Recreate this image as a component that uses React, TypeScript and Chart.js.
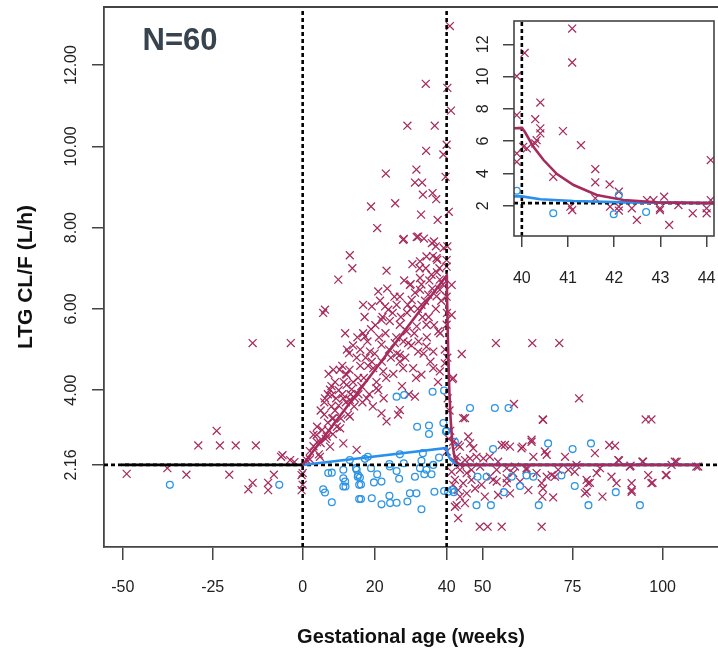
import React, { useEffect, useRef } from "react";
import { Chart, registerables } from "chart.js";

Chart.register(...registerables);

const FONT = '"Liberation Sans", Arial, sans-serif';
const MAROON = "#A62B5C";
const BLUE = "#2D95E5";
const BLUE_LINE = "#2A90EE";
const AXIS = "#444444";

// ---- main axis settings (values) ----
const X_MIN = -55.2;
const X_MAX = 115.4;
const Y_MIN = 0.14;
const Y_MAX = 13.43;
const X_TICKS = [-50, -25, 0, 20, 40, 50, 75, 100];
const Y_TICKS = [2.16, 4, 6, 8, 10, 12];
const BASELINE = 2.16;
const CONCEPTION = 0;
const DELIVERY = 40;

// ---- inset axis settings ----
const INSET_X_MIN = 39.83;
const INSET_X_MAX = 44.16;
const INSET_Y_MIN = 0.125;
const INSET_Y_MAX = 13.44;
const INSET_X_TICKS = [40, 41, 42, 43, 44];
const INSET_Y_TICKS = [2, 4, 6, 8, 10, 12];

// ---- fitted model lines ----
const PRE_FIT_X = [-50.4, 0];
const PRE_FIT_Y = [2.16, 2.16];
const MAROON_FIT_X = [0, 40, 40.07, 40.25, 40.47, 40.76, 41.12, 41.62, 42.2, 42.92, 44.15, 110.4];
const MAROON_FIT_Y = [2.16, 6.82, 6.55, 5.65, 4.83, 3.96, 3.28, 2.66, 2.35, 2.21, 2.16, 2.16];
const BLUE_FIT_X = [0, 40, 40.4, 41.12, 42.2, 44.15, 110.4];
const BLUE_FIT_Y = [2.16, 2.58, 2.4, 2.29, 2.21, 2.16, 2.16];

// ---- observations (weeks, L/h) ----
const CROSSES_PRE: [number, number][] = [
  [-48.9, 1.94], [-37.6, 2.08], [-32.3, 1.92], [-29.0, 2.64], [-23.9, 3.0], [-23.0, 2.64],
  [-20.4, 1.92], [-18.6, 2.64], [-13.0, 2.64], [-13.9, 5.16], [-3.3, 5.16], [-13.9, 1.72],
  [-15.1, 1.56], [-9.6, 1.72], [-9.6, 1.54], [-8.0, 1.92], [-5.6, 2.4], [-6.0, 2.36],
  [-3.5, 2.28], [-2.3, 2.23], [-0.3, 1.91], [-0.3, 1.54],
];

const CROSSES_PREG: [number, number][] = [
  [34.2, 11.54], [40.9, 12.96], [40.2, 11.44], [41.2, 10.88], [29.1, 10.51], [36.7, 10.51],
  [40.0, 10.04], [34.3, 9.89], [39.1, 9.8], [23.1, 9.33], [31.6, 9.43], [31.2, 9.11],
  [33.2, 9.11], [39.7, 9.25], [33.4, 8.81], [36.1, 8.85], [37.1, 8.7], [19.0, 8.52],
  [25.7, 8.6], [32.9, 8.32], [37.5, 8.19], [40.6, 8.39], [20.7, 7.99], [27.9, 7.7],
  [31.7, 7.77], [33.7, 7.73], [35.9, 7.62], [37.0, 7.54], [40.2, 7.54], [28.1, 7.72],
  [32.1, 7.78], [36.5, 7.66], [13.1, 7.32], [13.8, 7.0], [9.9, 6.72], [23.3, 6.94],
  [34.4, 7.29], [37.2, 7.25], [32.6, 7.17], [40.0, 7.04], [30.0, 6.61], [32.6, 6.76],
  [35.8, 6.84], [37.4, 7.21], [29.8, 6.59], [38.1, 6.72], [21.0, 6.43], [32.6, 6.47],
  [38.1, 6.47], [6.2, 5.98], [5.7, 5.9], [16.8, 6.1], [19.2, 6.06], [22.9, 6.06],
  [26.1, 6.1], [23.8, 5.98], [21.9, 5.73], [30.3, 6.22], [33.0, 6.1], [34.9, 6.35],
  [37.2, 6.31], [41.4, 6.59], [41.4, 5.85], [11.8, 5.4], [16.8, 5.4], [17.3, 5.32],
  [27.0, 5.61], [28.9, 5.45], [31.7, 5.57], [34.4, 5.61], [37.7, 5.45], [40.0, 5.61],
  [12.9, 4.91], [18.7, 4.95], [21.9, 5.12], [25.6, 5.16], [27.0, 4.87], [29.3, 5.16],
  [32.1, 4.95], [34.4, 5.07], [36.3, 4.95], [8.5, 4.5], [12.2, 4.38], [15.4, 4.3],
  [19.6, 4.54], [22.4, 4.46], [27.0, 4.7], [27.9, 4.54], [30.7, 4.54], [33.0, 4.38],
  [36.3, 4.54], [38.1, 4.46], [41.8, 4.3], [7.6, 4.01], [12.2, 4.13], [6.2, 3.8],
  [8.1, 3.88], [11.3, 3.8], [13.1, 3.76], [14.5, 3.8], [17.8, 3.8], [20.5, 4.05],
  [21.9, 3.43], [23.3, 3.23], [27.0, 3.51], [31.2, 3.84], [3.9, 2.9], [6.7, 2.86],
  [7.6, 2.61], [11.3, 2.69], [15.0, 2.53], [10.4, 3.06], [13.1, 3.35], [8.5, 3.31],
  [4.8, 2.36], [1.1, 2.28], [0.0, 1.96], [0.0, 1.67],
];

const CROSSES_BAND: [number, number][] = [
  [2, 2.5], [2, 2.3], [3, 2.62], [3, 2.9], [4, 2.72], [4, 3.1], [4.5, 2.42], [5, 3.5],
  [5, 2.7], [5.4, 3.02], [6, 3.4], [6, 3.7], [6.4, 2.8], [7, 3.9], [7, 3.2], [7.3, 3.0],
  [7.2, 4.4], [8, 3.6], [8, 4.1], [8.4, 2.92], [8.2, 3.3], [9, 4.2], [9, 3.5], [9.3, 3.8],
  [9.5, 3.1], [10, 4.0], [10, 3.62], [10.3, 4.5], [10.6, 3.3], [11, 4.6], [11, 3.9],
  [11.4, 4.2], [12, 4.4], [12, 3.7], [12.3, 5.0], [12.6, 3.4], [13, 4.5], [13.3, 3.9],
  [13.6, 4.02], [14, 5.1], [14, 4.2], [14.3, 3.6], [15, 4.8], [15.2, 5.3], [15.5, 3.9],
  [16, 4.6], [16, 5.0], [16.3, 4.1], [16.6, 3.7], [17, 4.3], [17.2, 5.8], [17.5, 4.8],
  [18, 5.2], [18.2, 4.6], [18.5, 3.9], [19, 5.5], [19.2, 4.7], [19.5, 3.6], [20, 4.9],
  [20.2, 5.6], [20.5, 4.2], [21, 4.0], [21.2, 5.3], [21.5, 6.2], [22, 4.7], [22.2, 5.8],
  [22.5, 3.8], [23, 5.4], [23.2, 4.3], [23.5, 6.5], [24, 5.0], [24.2, 5.7], [24.5, 4.8],
  [25, 5.9], [25.2, 4.4], [25.5, 6.3], [26, 5.3], [26.2, 4.9], [26.5, 3.4], [27, 6.3],
  [27.3, 5.8], [27.6, 4.1], [28, 5.2], [28.2, 6.7], [28.5, 4.8], [29, 5.9], [29.2, 6.1],
  [29.5, 3.9], [30, 6.0], [30.2, 5.1], [30.5, 7.1], [31, 5.4], [31.2, 6.4], [31.5, 4.3],
  [32, 6.0], [32.2, 5.2], [32.5, 7.0], [33, 6.6], [33.3, 5.8], [33.6, 4.9], [34, 6.2],
  [34.2, 7.0], [34.5, 5.3], [35, 5.8], [35.2, 6.7], [35.5, 4.7], [36, 6.5], [36.2, 7.3],
  [36.5, 5.6], [37, 6.0], [37.3, 6.9], [37.6, 4.2], [38, 7.0], [38.2, 5.4], [38.5, 6.2],
  [39, 6.6], [39.2, 7.5], [39.5, 5.0], [40, 6.3], [40, 7.2], [40.1, 5.9], [40.2, 4.8],
  [40.3, 3.8], [40.8, 3.5], [41.0, 3.0], [40.6, 2.8],
];

const CROSSES_POST: [number, number][] = [
  [44.2, 4.89], [53.7, 5.16], [63.8, 5.16], [71.3, 5.16], [76.8, 3.8], [58.7, 3.66],
  [66.7, 3.28], [95.3, 3.28], [96.9, 3.28], [44.6, 3.31], [45.1, 3.31], [46.0, 2.86],
  [56.2, 2.65], [57.6, 2.61], [61.1, 2.61], [63.6, 2.73], [67.8, 2.41], [69.2, 1.91],
  [72.9, 2.36], [81.2, 2.45], [85.2, 2.65], [86.8, 2.63], [87.9, 2.27], [91.1, 2.14],
  [94.4, 2.24], [96.0, 1.91], [97.2, 1.72], [100.9, 1.91], [103.4, 2.24], [109.9, 2.12],
  [79.8, 1.72], [78.9, 1.5], [83.3, 1.38], [87.2, 1.71], [91.4, 1.5], [69.6, 1.36],
  [66.6, 1.38], [66.4, 0.64], [49.2, 0.64], [51.4, 0.64], [55.3, 0.64], [43.2, 0.85],
  [42.8, 1.17], [53.9, 1.75], [56.7, 1.83], [58.5, 1.96], [62.2, 2.08], [64.1, 2.36],
  [66.4, 1.71], [67.3, 2.49], [76.1, 2.16], [81.7, 1.96], [78.9, 1.79], [41.6, 4.27],
  [39.5, 4.66], [66.8, 3.27], [43.7, 2.61], [47.4, 2.57], [55.3, 2.65], [60.8, 2.57],
  [63.6, 2.78], [70.1, 1.87], [87.7, 2.28], [90.9, 2.12], [94.6, 2.24], [102.5, 2.16],
  [103.9, 2.24], [109.4, 2.12], [82.6, 2.08], [79.3, 1.71], [78.4, 1.46], [85.8, 1.87],
  [91.4, 1.71], [91.4, 1.54], [96.9, 1.71], [101.1, 1.91], [42.8, 2.36], [45.1, 2.28],
  [46.5, 2.32], [48.3, 2.36], [50.2, 2.32], [52.0, 2.36], [54.3, 2.24], [43.7, 2.04],
  [45.6, 1.96], [46.9, 2.04], [49.3, 2.12], [52.0, 1.87], [53.9, 2.04], [56.7, 2.08],
  [59.0, 2.12], [62.2, 2.04], [65.0, 1.96], [67.8, 1.87], [71.0, 2.04], [73.8, 2.04],
  [42.3, 1.79], [44.6, 1.71], [46.9, 1.79], [49.7, 1.67], [52.9, 1.79], [56.7, 1.71],
  [60.4, 1.75], [62.7, 1.54], [66.8, 1.58], [43.2, 1.54], [45.6, 1.46], [47.9, 1.58],
  [50.6, 1.38], [54.3, 1.42], [57.6, 1.46], [42.3, 1.13], [43.7, 1.38], [45.1, 1.22],
  [75.6, 1.99], [46.5, 2.69], [41.8, 2.73], [43.2, 2.65], [40.0, 2.49], [42.3, 2.24],
  [43.7, 2.16], [41.4, 1.99], [41.8, 1.67],
];

const CIRCLES_PRE: [number, number][] = [[-36.9, 1.67], [-6.5, 1.67]];

const CIRCLES_PREG: [number, number][] = [
  [26.1, 3.84], [28.2, 3.88], [36.1, 3.96], [39.3, 3.99], [31.8, 3.1], [35.1, 3.13],
  [35.1, 2.92], [39.1, 3.19], [40.0, 3.0], [13.1, 2.28], [17.3, 2.31], [18.1, 2.36],
  [27.0, 2.42], [33.4, 2.45], [37.9, 2.34], [33.0, 2.26], [24.1, 2.18], [28.1, 2.2],
  [36.3, 2.16], [7.1, 1.96], [8.1, 1.97], [11.3, 2.04], [15.0, 2.04], [19.0, 2.08],
  [24.2, 2.12], [26.1, 2.01], [32.6, 2.08], [34.4, 2.04], [11.3, 1.83], [15.3, 1.87],
  [15.9, 1.85], [20.7, 1.93], [26.8, 1.82], [31.2, 1.87], [33.8, 1.93], [35.8, 1.93],
  [11.3, 1.63], [16.2, 1.68], [19.8, 1.73], [21.9, 1.75], [5.7, 1.56], [6.2, 1.48],
  [8.1, 1.24], [16.2, 1.32], [19.2, 1.34], [21.9, 1.19], [24.1, 1.4], [24.3, 1.22],
  [26.1, 1.23], [29.1, 1.26], [29.8, 1.46], [31.6, 1.46], [33.0, 1.07], [36.6, 1.5],
  [39.3, 1.52], [11.8, 1.75], [11.9, 1.63], [14.8, 2.08], [15.4, 1.91], [15.7, 1.67],
  [15.7, 1.32],
];

const CIRCLES_POST: [number, number][] = [
  [40.4, 1.5], [42.0, 1.49], [46.5, 3.56], [53.4, 3.56], [57.2, 3.56], [52.9, 2.55],
  [68.2, 2.69], [75.0, 2.55], [80.1, 2.69], [48.6, 1.87], [51.1, 1.87], [58.1, 1.87],
  [62.2, 1.9], [64.1, 1.87], [71.9, 1.9], [60.4, 1.64], [75.6, 1.64], [55.9, 1.49],
  [87.0, 1.49], [48.3, 1.17], [52.3, 1.17], [65.6, 1.17], [79.4, 1.17], [93.7, 1.17],
  [42.3, 2.73], [39.8, 2.98], [41.5, 1.55],
];

const INSET_CROSSES: [number, number][] = [
  [41.09, 12.97], [41.09, 10.87], [40.06, 11.46], [39.89, 10.02], [39.89, 7.61], [40.4, 8.39],
  [40.29, 7.36], [40.4, 6.79], [40.4, 6.48], [40.32, 6.06], [40.29, 5.86], [40.89, 6.62],
  [41.28, 5.75], [39.89, 5.24], [39.89, 4.72], [40.03, 5.65], [40.11, 5.55], [40.68, 3.79],
  [41.59, 4.27], [41.59, 3.45], [41.9, 3.32], [42.1, 2.87], [41.59, 2.46], [41.05, 1.94],
  [41.09, 1.73], [41.91, 1.94], [42.1, 1.94], [42.1, 1.7], [42.38, 1.84], [42.49, 1.12],
  [42.71, 2.35], [42.85, 2.35], [43.08, 2.56], [42.99, 1.84], [42.99, 1.73], [43.19, 0.81],
  [43.39, 2.04], [43.7, 1.53], [44.0, 1.84], [44.0, 1.53], [44.09, 4.83], [44.09, 2.35],
];

const INSET_CIRCLES: [number, number][] = [
  [39.89, 2.93], [40.68, 1.53], [41.99, 1.47], [42.1, 2.66], [42.69, 1.61],
];

const toPts = (arr: [number, number][]) => arr.map(([x, y]) => ({ x, y }));
const zipPts = (xs: number[], ys: number[]) => xs.map((x, i) => ({ x, y: ys[i] }));

const fitDatasets = () => [
  {
    label: "maroon fit",
    data: zipPts(MAROON_FIT_X, MAROON_FIT_Y),
    showLine: true,
    borderColor: MAROON,
    borderWidth: 2.6,
    pointRadius: 0,
    tension: 0,
    order: 0,
  },
  {
    label: "blue fit",
    data: zipPts(BLUE_FIT_X, BLUE_FIT_Y),
    showLine: true,
    borderColor: BLUE_LINE,
    borderWidth: 2.6,
    pointRadius: 0,
    order: 1,
  },
];

const refLine = (pts: { x: number; y: number }[], label: string) => ({
  label,
  data: pts,
  showLine: true,
  borderColor: "#000000",
  borderWidth: 2.6,
  borderDash: [4, 3],
  pointRadius: 0,
  order: 3,
});

const crossDs = (pts: { x: number; y: number }[], r: number) => ({
  label: "crosses",
  data: pts,
  pointStyle: "crossRot",
  pointRadius: r,
  borderColor: MAROON,
  backgroundColor: MAROON,
  borderWidth: 1.25,
  order: 5,
});

const circleDs = (pts: { x: number; y: number }[], r: number) => ({
  label: "circles",
  data: pts,
  pointStyle: "circle",
  pointRadius: r,
  borderColor: BLUE,
  backgroundColor: "rgba(0,0,0,0)",
  borderWidth: 1.3,
  order: 4,
});

const fixSize = (w: number | null, h: number | null) => (s: any) => {
  if (w !== null) s.width = w;
  if (h !== null) s.height = h;
  s.paddingLeft = 0;
  s.paddingRight = 0;
  s.paddingTop = 0;
  s.paddingBottom = 0;
};

const mainFrame = {
  id: "mainFrame",
  afterDraw(chart: any) {
    const { ctx, chartArea } = chart;
    ctx.save();
    ctx.strokeStyle = AXIS;
    ctx.lineWidth = 1.8;
    ctx.beginPath();
    ctx.moveTo(chartArea.left, chartArea.top);
    ctx.lineTo(chartArea.right, chartArea.top);
    ctx.stroke();
    ctx.font = `bold 31px ${FONT}`;
    ctx.fillStyle = "#37434F";
    ctx.textBaseline = "alphabetic";
    ctx.textAlign = "left";
    ctx.fillText("N=60", 142.5, 50);
    ctx.restore();
  },
};

const insetFrame = {
  id: "insetFrame",
  afterDraw(chart: any) {
    const { ctx, chartArea } = chart;
    ctx.save();
    ctx.strokeStyle = AXIS;
    ctx.lineWidth = 1.6;
    ctx.strokeRect(chartArea.left, chartArea.top, chartArea.right - chartArea.left, chartArea.bottom - chartArea.top);
    ctx.restore();
  },
};

export default function App() {
  const mainRef = useRef<HTMLCanvasElement | null>(null);
  const insetRef = useRef<HTMLCanvasElement | null>(null);

  useEffect(() => {
    Chart.defaults.font.family = FONT;
    const tickFont = { family: FONT, size: 16 };

    const main = new Chart(mainRef.current as HTMLCanvasElement, {
      type: "scatter",
      data: {
        datasets: [
          ...fitDatasets(),
          {
            label: "pre fit",
            data: zipPts(PRE_FIT_X, PRE_FIT_Y),
            showLine: true,
            borderColor: "#000000",
            borderWidth: 2.6,
            pointRadius: 0,
            order: 2,
          },
          refLine([{ x: X_MIN, y: BASELINE }, { x: X_MAX, y: BASELINE }], "baseline"),
          refLine([{ x: CONCEPTION, y: Y_MIN }, { x: CONCEPTION, y: Y_MAX }], "conception"),
          refLine([{ x: DELIVERY, y: Y_MIN }, { x: DELIVERY, y: Y_MAX }], "delivery"),
          circleDs(toPts([...CIRCLES_PRE, ...CIRCLES_PREG, ...CIRCLES_POST]), 3.4),
          crossDs(toPts([...CROSSES_PRE, ...CROSSES_PREG, ...CROSSES_BAND, ...CROSSES_POST]), 5.6),
        ] as any,
      },
      options: {
        animation: false,
        responsive: false,
        maintainAspectRatio: false,
        layout: { autoPadding: false, padding: { top: 7, right: 0, left: 0, bottom: 0 } },
        plugins: { legend: { display: false }, tooltip: { enabled: false } },
        scales: {
          x: {
            type: "linear",
            min: X_MIN,
            max: X_MAX,
            afterBuildTicks: (s: any) => {
              s.ticks = X_TICKS.map((v) => ({ value: v }));
            },
            afterFit: fixSize(null, 102),
            ticks: {
              autoSkip: false,
              maxRotation: 0,
              font: tickFont,
              color: "#222222",
              padding: 18,
              callback: (v: any) => String(v),
            },
            grid: { drawOnChartArea: false, drawTicks: true, tickLength: 13, color: AXIS, lineWidth: 1.5 },
            border: { display: true, color: AXIS, width: 1.8 },
            title: {
              display: true,
              text: "Gestational age (weeks)",
              font: { family: FONT, size: 20, weight: "bold" },
              color: "#111111",
              padding: { top: 0, bottom: 0 },
            },
          },
          y: {
            type: "linear",
            min: Y_MIN,
            max: Y_MAX,
            afterBuildTicks: (s: any) => {
              s.ticks = Y_TICKS.map((v) => ({ value: v }));
            },
            afterFit: fixSize(104, null),
            ticks: {
              autoSkip: false,
              minRotation: 90,
              maxRotation: 90,
              crossAlign: "center",
              font: tickFont,
              color: "#222222",
              padding: 0,
              callback: (v: any) => Number(v).toFixed(2),
            },
            grid: { drawOnChartArea: false, drawTicks: true, tickLength: 12, color: AXIS, lineWidth: 1.5 },
            border: { display: true, color: AXIS, width: 1.8 },
            title: {
              display: true,
              text: "LTG CL/F (L/h)",
              font: { family: FONT, size: 21, weight: "bold" },
              color: "#111111",
              padding: { top: 14, bottom: 0 },
            },
          },
        },
      } as any,
      plugins: [mainFrame],
    });

    const inset = new Chart(insetRef.current as HTMLCanvasElement, {
      type: "scatter",
      data: {
        datasets: [
          ...fitDatasets(),
          refLine([{ x: INSET_X_MIN, y: BASELINE }, { x: INSET_X_MAX, y: BASELINE }], "baseline"),
          refLine([{ x: DELIVERY, y: INSET_Y_MIN }, { x: DELIVERY, y: INSET_Y_MAX }], "delivery"),
          circleDs(toPts(INSET_CIRCLES), 3.4),
          crossDs(toPts(INSET_CROSSES), 5.6),
        ] as any,
      },
      options: {
        animation: false,
        responsive: false,
        maintainAspectRatio: false,
        layout: { autoPadding: false, padding: { top: 21, right: 4, left: 0, bottom: 0 } },
        plugins: { legend: { display: false }, tooltip: { enabled: false } },
        scales: {
          x: {
            type: "linear",
            min: INSET_X_MIN,
            max: INSET_X_MAX,
            afterBuildTicks: (s: any) => {
              s.ticks = INSET_X_TICKS.map((v) => ({ value: v }));
            },
            afterFit: fixSize(null, 64),
            ticks: { autoSkip: false, maxRotation: 0, font: tickFont, color: "#222222", padding: 22 },
            grid: { drawOnChartArea: false, drawTicks: true, tickLength: 11, color: AXIS, lineWidth: 1.5 },
            border: { display: false },
          },
          y: {
            type: "linear",
            min: INSET_Y_MIN,
            max: INSET_Y_MAX,
            afterBuildTicks: (s: any) => {
              s.ticks = INSET_Y_TICKS.map((v) => ({ value: v }));
            },
            afterFit: fixSize(54, null),
            ticks: {
              autoSkip: false,
              minRotation: 90,
              maxRotation: 90,
              crossAlign: "center",
              font: tickFont,
              color: "#222222",
              padding: 11,
            },
            grid: { drawOnChartArea: false, drawTicks: true, tickLength: 11, color: AXIS, lineWidth: 1.5 },
            border: { display: false },
          },
        },
      } as any,
      plugins: [insetFrame],
    });

    return () => {
      main.destroy();
      inset.destroy();
    };
  }, []);

  return (
    <div style={{ position: "fixed", left: 0, top: 0, width: 718, height: 649, background: "#ffffff", overflow: "hidden" }}>
      <canvas ref={mainRef} width={718} height={649} style={{ position: "absolute", left: 0, top: 0, width: 718, height: 649 }} />
      <canvas ref={insetRef} width={258} height={300} style={{ position: "absolute", left: 460, top: 0, width: 258, height: 300 }} />
    </div>
  );
}
